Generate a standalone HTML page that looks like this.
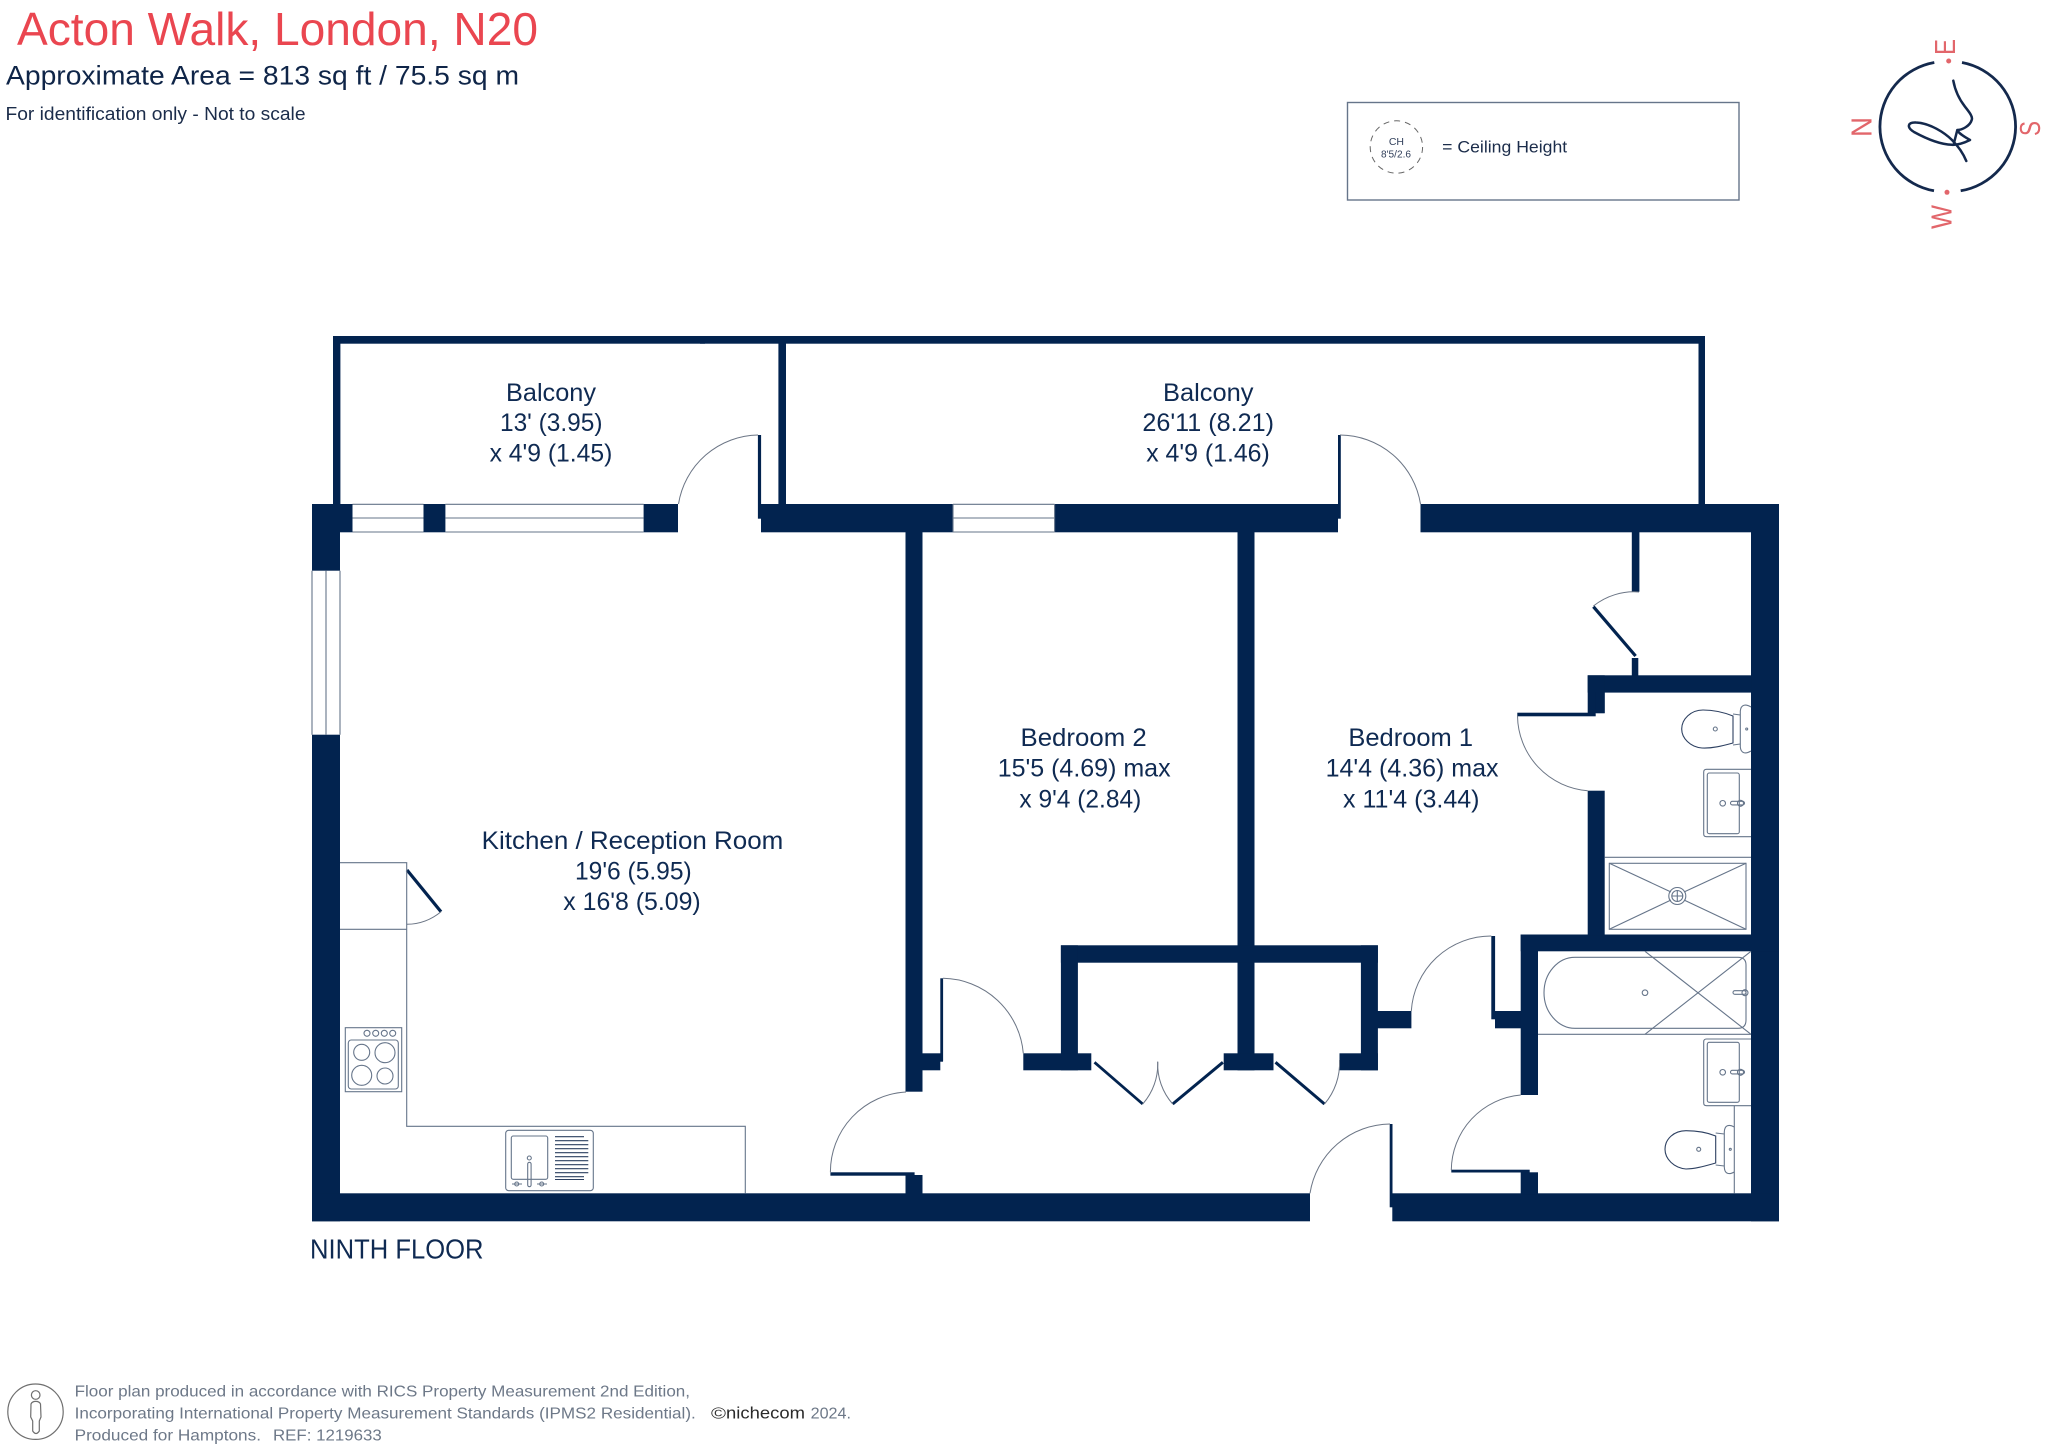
<!DOCTYPE html>
<html lang="en">
<head>
<meta charset="utf-8">
<title>Acton Walk, London, N20 floor plan</title>
<style>
html,body{margin:0;padding:0;background:#fff}
svg{display:block}
text{font-family:"Liberation Sans",sans-serif}
.r{font-size:25px;fill:#0f2a52}
.f{font-size:16px;fill:#6d7888}
.l{fill:none;stroke:#66758a;stroke-width:1.1}
.d{fill:none;stroke:#6b7585;stroke-width:1}
.n{fill:none;stroke:#2d4061;stroke-width:1.1}
.c{font-size:29px;fill:#e2666b}
</style>
</head>
<body>
<svg xmlns="http://www.w3.org/2000/svg" width="2048" height="1449" viewBox="0 0 2048 1449">
<rect width="2048" height="1449" fill="#fff"/>

<!-- Header -->
<text x="17" y="45" font-size="46" fill="#ea4650" textLength="521" lengthAdjust="spacingAndGlyphs">Acton Walk, London, N20</text>
<text x="6" y="84.3" font-size="27" fill="#0f2548" textLength="513" lengthAdjust="spacingAndGlyphs">Approximate Area = 813 sq ft / 75.5 sq m</text>
<text x="5.5" y="120" font-size="18.5" fill="#1b2c4a" textLength="300" lengthAdjust="spacingAndGlyphs">For identification only - Not to scale</text>

<!-- Legend -->
<rect x="1347.5" y="102.5" width="391.5" height="97.5" fill="#fff" stroke="#66758a" stroke-width="1.4"/>
<circle cx="1396.4" cy="147" r="26.2" fill="none" stroke="#666" stroke-width="1" stroke-dasharray="6 5"/>
<text x="1396.4" y="145" font-size="10.5" fill="#33415c" text-anchor="middle">CH</text>
<text x="1381" y="157.7" font-size="10" fill="#33415c" textLength="30" lengthAdjust="spacingAndGlyphs">8'5/2.6</text>
<text x="1442.2" y="152.7" font-size="17" fill="#1b2c4a" textLength="125" lengthAdjust="spacingAndGlyphs">= Ceiling Height</text>

<!-- Compass -->
<g fill="none" stroke="#14294d" stroke-width="2.8">
<path d="M1934.3,62.5 A66,65.2 0 0 0 1934,190.8"/>
<path d="M1962,62.5 A66,65.2 0 0 1 1960.7,190.8"/>
<path stroke-width="2.5" stroke-linecap="round" stroke-linejoin="round" d="M1953.3,80.7 C1955,90 1959,99 1965,106.7 C1970,113 1973,117 1971.7,120 C1970,126 1962,130 1957.3,130 C1959,134 1965,137 1970,140 C1964,143 1958,145 1952,144.8 C1940,144.5 1925,138 1914,132 C1906,127 1908,122 1916,122.5 C1930,123 1945,133 1952,140 C1958,146 1963,153 1966.3,161 M1957.3,130 L1954,143"/>
</g>
<circle cx="1948.7" cy="61" r="2.5" fill="#e2666b"/>
<circle cx="1947" cy="192.3" r="2.5" fill="#e2666b"/>
<text class="c" transform="translate(1871.7,137) rotate(-90)" textLength="20" lengthAdjust="spacingAndGlyphs">N</text>
<text class="c" transform="translate(1955,55) rotate(-90)" textLength="16" lengthAdjust="spacingAndGlyphs">E</text>
<text class="c" transform="translate(2040,136) rotate(-90)" textLength="15" lengthAdjust="spacingAndGlyphs">S</text>
<text class="c" transform="translate(1951.7,229) rotate(-90)" textLength="24" lengthAdjust="spacingAndGlyphs">W</text>

<!-- Walls -->
<g fill="#02234f">
<!-- balcony -->
<rect x="333" y="336" width="372" height="7.7"/>
<rect x="700" y="336" width="1005" height="7.7"/>
<rect x="333" y="336" width="7.4" height="170"/>
<rect x="778.4" y="336" width="7.6" height="170"/>
<rect x="1698.5" y="336" width="6.5" height="170"/>
<!-- top main wall -->
<rect x="312" y="504" width="40.5" height="28.3"/>
<rect x="312" y="504" width="28" height="66.7"/>
<rect x="423.5" y="504" width="21.9" height="28.3"/>
<rect x="643.6" y="504" width="34.4" height="28.3"/>
<rect x="761" y="504" width="192" height="28.3"/>
<rect x="757.9" y="435" width="3.2" height="83.7"/>
<rect x="1054.6" y="504" width="283.4" height="28.3"/>
<rect x="1338" y="435" width="2.8" height="83.7"/>
<rect x="1420.5" y="504" width="358.5" height="28.3"/>
<!-- left wall -->
<rect x="312" y="734.7" width="28" height="486.6"/>
<!-- right wall -->
<rect x="1751" y="504" width="28" height="717.3"/>
<!-- bottom wall -->
<rect x="312" y="1193.3" width="998" height="28"/>
<rect x="1392.3" y="1193.3" width="386.7" height="28"/>
<rect x="1389.7" y="1124" width="2.8" height="83.3"/>
<!-- interior kitchen/bedroom -->
<rect x="905.5" y="532" width="17" height="559.7"/>
<rect x="905.5" y="1175" width="17" height="20"/>
<rect x="830.4" y="1172.3" width="84.2" height="3.4"/>
<rect x="922" y="1053.3" width="21" height="8.4"/>
<rect x="922" y="1061" width="18.3" height="9.3"/>
<rect x="940.3" y="978.3" width="2.8" height="83"/>
<!-- bedroom divider and closets -->
<rect x="1237.5" y="532" width="17" height="538.3"/>
<rect x="1060.9" y="945.3" width="317" height="17.4"/>
<rect x="1060.9" y="945.3" width="17" height="125"/>
<rect x="1360.9" y="945.3" width="17" height="125"/>
<rect x="1023.3" y="1053.3" width="68" height="17"/>
<rect x="1223.7" y="1053.3" width="49.8" height="17"/>
<rect x="1339.5" y="1053.3" width="38.4" height="17"/>
<rect x="1377" y="1011" width="34.4" height="17.3"/>
<!-- hall right -->
<rect x="1495" y="1011" width="26" height="17.3"/>
<rect x="1491.3" y="936" width="3.8" height="83.3"/>
<rect x="1520.7" y="934.5" width="258" height="16.8"/>
<rect x="1520.7" y="934.5" width="17.3" height="160.5"/>
<rect x="1520.7" y="1172.3" width="17.3" height="22"/>
<rect x="1451.3" y="1169.7" width="78.4" height="2.8"/>
<!-- ensuite -->
<rect x="1587.7" y="675.3" width="163.5" height="17.3"/>
<rect x="1587.7" y="675.3" width="17" height="37.7"/>
<rect x="1595.7" y="692" width="9" height="21.3"/>
<rect x="1517.3" y="712.7" width="78.4" height="3.6"/>
<rect x="1587.7" y="790.7" width="17" height="145"/>
<!-- closet -->
<rect x="1631.8" y="532" width="7.6" height="59.7"/>
<rect x="1631.8" y="658" width="6.5" height="18"/>
</g>

<!-- Door leaves (diagonal) -->
<g stroke="#02234f" fill="none" stroke-linecap="butt">
<line x1="1593.4" y1="606.7" x2="1635.6" y2="656" stroke-width="3.2"/>
<line x1="407" y1="870" x2="441" y2="911.7" stroke-width="3.2"/>
<line x1="1094.5" y1="1062.3" x2="1142.7" y2="1104" stroke-width="2.8"/>
<line x1="1172.7" y1="1104" x2="1222.9" y2="1062.3" stroke-width="3"/>
<line x1="1275.5" y1="1062.3" x2="1324.5" y2="1104" stroke-width="3"/>
</g>

<!-- Door arcs -->
<g class="d">
<path d="M758,435 A82,82 0 0 0 678.5,504"/>
<path d="M1340,435 A82,82 0 0 1 1420.5,504"/>
<path d="M943,978.3 A82,82 0 0 1 1023.3,1053.3"/>
<path d="M830.4,1172.3 A80,80 0 0 1 906,1092"/>
<path d="M1310,1193.3 A82,82 0 0 1 1390,1124"/>
<path d="M1411.3,1011 A80,80 0 0 1 1491.3,936"/>
<path d="M1451.3,1170 A76,76 0 0 1 1520.7,1095"/>
<path d="M1517.5,716 A76,76 0 0 0 1587.7,790.7"/>
<path d="M1639,592 A65,65 0 0 0 1593.4,606"/>
<path d="M441,911.7 A55,55 0 0 1 407,924.3"/>
<path d="M1142.7,1104 A60,60 0 0 0 1157.7,1061.7"/>
<path d="M1172.7,1104 A60,60 0 0 1 1157.7,1061.7"/>
<path d="M1324.5,1104 A63,63 0 0 0 1339.5,1060"/>
</g>

<!-- Windows -->
<g class="l">
<path d="M352.5,504.3 H423.5 M352.5,518 H423.5 M352.5,532 H423.5"/>
<path d="M445.4,504.3 H643.6 M445.4,518 H643.6 M445.4,532 H643.6"/>
<path d="M953,504.3 H1054.6 M953,518 H1054.6 M953,532 H1054.6 M1054.6,504 V532 M953,504 V532"/>
<path d="M312,570.7 V734.7 M326,570.7 V734.7 M340,570.7 V734.7"/>
</g>

<!-- Kitchen units -->
<g class="l">
<path d="M340,862.7 H406.7 V1126.3 H745.3 V1193.3"/>
<path d="M340,929.3 H406.7"/>
<!-- hob -->
<rect x="345.3" y="1027.7" width="56.4" height="64"/>
<rect x="348.3" y="1040" width="50" height="49" rx="3"/>
<circle cx="367" cy="1033.3" r="3"/>
<circle cx="375.7" cy="1033.3" r="3"/>
<circle cx="384.3" cy="1033.3" r="3"/>
<circle cx="392.7" cy="1033.3" r="3"/>
<circle cx="361.7" cy="1052.3" r="8"/>
<circle cx="385" cy="1052.7" r="10"/>
<circle cx="361.7" cy="1075.3" r="10"/>
<circle cx="385" cy="1076" r="8"/>
<!-- sink -->
<rect x="505.7" y="1130.3" width="87.6" height="60.4" rx="3"/>
<rect x="511.3" y="1136" width="36.4" height="43.3" rx="2"/>
<circle cx="529.3" cy="1158" r="2"/>
<rect x="527.7" y="1162.3" width="3.4" height="24.4" rx="1.7"/>
<path d="M512,1184 H522 M537,1184 H547"/>
<circle cx="516.7" cy="1184" r="2"/>
<circle cx="541.7" cy="1184" r="2"/>
<path class="n" d="M555,1136.7 H584 M555,1140.7 H588.3 M555,1144.7 H588.3 M555,1148.7 H588.3 M555,1152.7 H588.3 M555,1156.7 H588.3 M555,1160.7 H588.3 M555,1164.7 H588.3 M555,1168.7 H588.3 M555,1172.7 H588.3 M555,1176.7 H584 M555,1179.5 H584"/>
</g>

<!-- Ensuite fittings -->
<g class="l">
<!-- toilet 1 -->
<path class="n" d="M1733,716 L1733,743 C1722,746 1712,748.5 1702,748 C1690,747 1681.7,738 1681.7,729 C1681.7,719 1691,710 1703,710 C1713,710 1723,712 1733,716 Z"/>
<path d="M1733,714 L1740.3,715 M1733,745 L1740.3,744"/>
<path d="M1751,707 C1746,704 1741,704 1740.3,711 V747 C1741,754 1746,754 1751,751"/>
<circle cx="1715.3" cy="729" r="2"/>
<circle cx="1746.7" cy="729" r="1"/>
<!-- basin 1 -->
<path d="M1751,769.3 H1706.5 Q1703.7,769.3 1703.7,772 V834 Q1703.7,836.7 1706.5,836.7 H1751"/>
<rect x="1707.3" y="773" width="32" height="60.7" rx="2"/>
<circle cx="1722.7" cy="803.3" r="2.8"/>
<rect x="1730.5" y="801.3" width="14" height="3.6" rx="1.8"/>
<circle cx="1740.5" cy="803.3" r="3"/>
<!-- shower -->
<path d="M1604.7,857.3 H1751"/>
<rect x="1609.3" y="863.3" width="136.7" height="66"/>
<path d="M1609.3,863.3 L1671,892 M1746,863.3 L1684,892 M1609.3,929.3 L1671,900 M1746,929.3 L1684,900"/>
<circle cx="1677.3" cy="896" r="8.5"/>
<circle cx="1677.3" cy="896" r="5.5"/>
<path d="M1671.8,896 H1682.8 M1677.3,890.5 V901.5"/>
<!-- bath -->
<path d="M1575,957.3 H1738 Q1746,957.3 1746,965 V1020 Q1746,1028.3 1738,1028.3 H1575 C1558,1028.3 1544,1012 1544,992.7 C1544,973 1558,957.3 1575,957.3 Z"/>
<path d="M1538,1034.3 H1751"/>
<path d="M1645,951.3 L1751,1034.3 M1645,1034.3 L1751,951.3"/>
<circle cx="1645" cy="992.7" r="2.8"/>
<rect x="1733" y="990.7" width="13" height="3.6" rx="1.8"/>
<circle cx="1745" cy="992.7" r="3"/>
<!-- basin 2 -->
<path d="M1751,1039 H1706.5 Q1703.7,1039 1703.7,1041.7 V1103 Q1703.7,1105.7 1706.5,1105.7 H1751"/>
<rect x="1707.3" y="1042.3" width="32" height="60" rx="2"/>
<circle cx="1722.7" cy="1072.3" r="2.8"/>
<rect x="1730.5" y="1070.3" width="14" height="3.6" rx="1.8"/>
<circle cx="1740.5" cy="1072.3" r="3"/>
<path d="M1734.3,1105.7 V1193.3"/>
<!-- toilet 2 -->
<path class="n" d="M1715.7,1136 V1163 C1705,1166 1695,1169 1686,1169 C1674,1168 1665,1159 1665,1149.3 C1665,1139 1674,1130.7 1686,1130.7 C1696,1130.7 1706,1132 1715.7,1136 Z"/>
<path d="M1715.7,1133 L1724.3,1134 M1715.7,1165 L1724.3,1166"/>
<path d="M1734.3,1127 C1729,1124 1724.5,1125 1724.3,1132 V1167 C1724.5,1174 1729,1175 1734.3,1172"/>
<circle cx="1698.7" cy="1149.3" r="2"/>
<circle cx="1730.3" cy="1149.3" r="1"/>
</g>

<!-- Room labels -->
<text class="r" x="506" y="401" textLength="90" lengthAdjust="spacingAndGlyphs">Balcony</text>
<text class="r" x="500" y="431" textLength="102.5" lengthAdjust="spacingAndGlyphs">13' (3.95)</text>
<text class="r" x="489.6" y="461.7" textLength="122.7" lengthAdjust="spacingAndGlyphs">x 4'9 (1.45)</text>

<text class="r" x="1163" y="401" textLength="90.5" lengthAdjust="spacingAndGlyphs">Balcony</text>
<text class="r" x="1142.4" y="431" textLength="131.6" lengthAdjust="spacingAndGlyphs">26'11 (8.21)</text>
<text class="r" x="1146.2" y="461.7" textLength="123.6" lengthAdjust="spacingAndGlyphs">x 4'9 (1.46)</text>

<text class="r" x="1020.5" y="746" textLength="126.2" lengthAdjust="spacingAndGlyphs">Bedroom 2</text>
<text class="r" x="997.7" y="776.7" textLength="172.9" lengthAdjust="spacingAndGlyphs">15'5 (4.69) max</text>
<text class="r" x="1019.4" y="807.3" textLength="121.9" lengthAdjust="spacingAndGlyphs">x 9'4 (2.84)</text>

<text class="r" x="1348.4" y="746" textLength="124.6" lengthAdjust="spacingAndGlyphs">Bedroom 1</text>
<text class="r" x="1325.6" y="776.7" textLength="172.9" lengthAdjust="spacingAndGlyphs">14'4 (4.36) max</text>
<text class="r" x="1343" y="807.3" textLength="136.5" lengthAdjust="spacingAndGlyphs">x 11'4 (3.44)</text>

<text class="r" x="481.7" y="849" textLength="301.6" lengthAdjust="spacingAndGlyphs">Kitchen / Reception Room</text>
<text class="r" x="575" y="879.3" textLength="116.7" lengthAdjust="spacingAndGlyphs">19'6 (5.95)</text>
<text class="r" x="563.3" y="910" textLength="137.4" lengthAdjust="spacingAndGlyphs">x 16'8 (5.09)</text>

<text x="310" y="1258.7" font-size="27.5" fill="#0f2a52" textLength="173.5" lengthAdjust="spacingAndGlyphs">NINTH FLOOR</text>

<!-- Footer -->
<g fill="none" stroke="#6f6f6f" stroke-width="1.2">
<circle cx="35.5" cy="1411.7" r="27.7"/>
<circle cx="35.7" cy="1395" r="4.3"/>
<path d="M31,1404 C32.5,1400.5 39,1400.5 40.5,1404 L41,1417 L39.3,1421 V1431 Q36,1436 32.7,1431 V1421 L30.7,1417 Z"/>
</g>
<text class="f" x="74.6" y="1396.7" textLength="615.4" lengthAdjust="spacingAndGlyphs">Floor plan produced in accordance with RICS Property Measurement 2nd Edition,</text>
<text class="f" x="74.6" y="1418.7" textLength="621.2" lengthAdjust="spacingAndGlyphs">Incorporating International Property Measurement Standards (IPMS2 Residential).</text>
<text class="f" x="711" y="1418.7" style="fill:#333" textLength="15" lengthAdjust="spacingAndGlyphs">©</text>
<text class="f" x="726" y="1418.7" style="fill:#2a2a2a;font-size:17px" textLength="79" lengthAdjust="spacingAndGlyphs">nichecom</text>
<text class="f" x="810.6" y="1418.7" textLength="40.4" lengthAdjust="spacingAndGlyphs">2024.</text>
<text class="f" x="74.6" y="1440.7" textLength="186.4" lengthAdjust="spacingAndGlyphs">Produced for Hamptons.</text>
<text class="f" x="273" y="1440.7" textLength="108.8" lengthAdjust="spacingAndGlyphs">REF: 1219633</text>
</svg>
</body>
</html>
